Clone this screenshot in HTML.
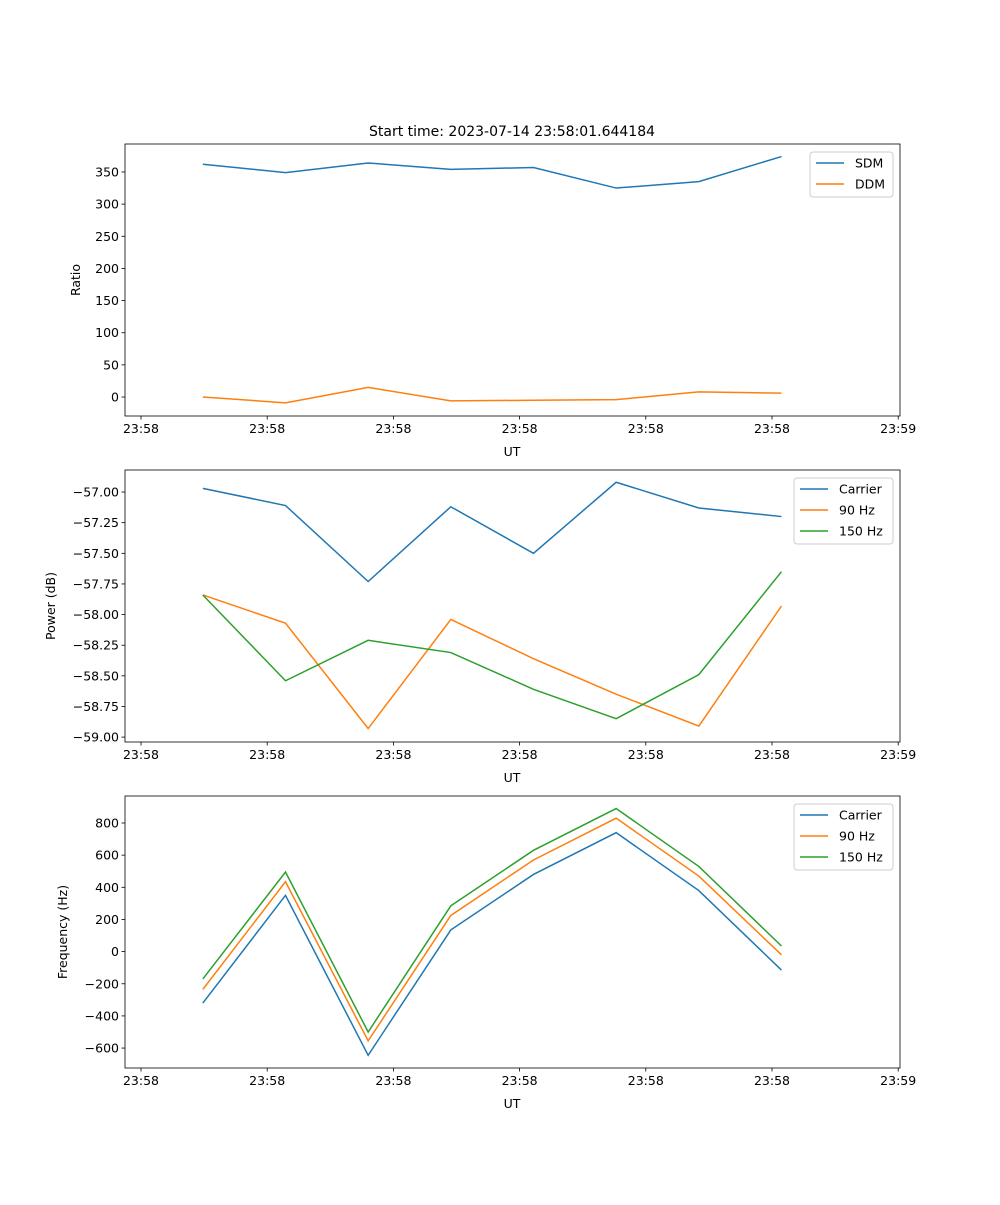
<!DOCTYPE html>
<html><head><meta charset="utf-8"><style>
body{margin:0;background:#fff}
svg text{font-family:"DejaVu Sans","Liberation Sans",sans-serif;font-size:12.5px;fill:#000}
</style></head><body>
<svg id="chart" width="1000" height="1200" xmlns="http://www.w3.org/2000/svg">
<rect width="1000" height="1200" fill="#fff"/>
<text x="512" y="136" text-anchor="middle" style="font-size:14px">Start time: 2023-07-14 23:58:01.644184</text>
</svg>
<script>
const times = [0.49, 1.145, 1.80, 2.455, 3.11, 3.765, 4.42, 5.075];
const xTickVals = [0, 1, 2, 3, 4, 5, 6];
const xTickLabels = ["23:58","23:58","23:58","23:58","23:58","23:58","23:59"];
const sdm = [362, 349, 364, 354, 357, 325, 335, 374];
const ddm = [0, -9, 15, -6, -5, -4, 8, 6];
const powCarrier = [-56.97, -57.11, -57.73, -57.12, -57.50, -56.92, -57.13, -57.20];
const pow90 = [-57.84, -58.07, -58.93, -58.04, -58.36, -58.65, -58.91, -57.93];
const pow150 = [-57.84, -58.54, -58.21, -58.31, -58.61, -58.85, -58.49, -57.65];
const freqCarrier = [-320, 350, -645, 135, 480, 740, 380, -115];
const freq90 = [-235, 435, -555, 225, 570, 830, 470, -20];
const freq150 = [-170, 495, -500, 285, 630, 890, 530, 35];
const ratioTicks = [0,50,100,150,200,250,300,350];
const powTicks = [-59,-58.75,-58.5,-58.25,-58,-57.75,-57.5,-57.25,-57];
const freqTicks = [-600,-400,-200,0,200,400,600,800];

const NS="http://www.w3.org/2000/svg";
const svg=document.getElementById('chart');
const X0=125,X1=900;
function xs(t){return 141+t*126.2;}
function mk(tag,attrs,parent){const e=document.createElementNS(NS,tag);for(const k in attrs)e.setAttribute(k,attrs[k]);(parent||svg).appendChild(e);return e;}
const C={blue:'#1f77b4',orange:'#ff7f0e',green:'#2ca02c'};

function panel(name,top,ymin,ymax,ticks,fmt,ylabel,ylabelX,series,legend){
  const bot=top+272;
  const ys=v=>bot-(v-ymin)/(ymax-ymin)*272;
  const g=mk('g',{});
  
  
  series.forEach(s=>{
    const p=mk('polyline',{points:s.vals.map((v,i)=>xs(times[i])+','+ys(v)).join(' '),fill:'none',stroke:s.color,'stroke-width':1.5},g);
    
    
  });
  mk('rect',{x:X0,y:top,width:X1-X0,height:272,fill:'none',stroke:'#000','stroke-width':0.8},g);
  xTickVals.forEach((t,i)=>{
    const x=xs(t);
    mk('line',{x1:x,x2:x,y1:bot,y2:bot+3.5,stroke:'#000','stroke-width':0.8},g);
    const tx=mk('text',{x:x,y:bot+17,'text-anchor':'middle'},g);tx.textContent=xTickLabels[i];
    
    
  });
  const xl=mk('text',{x:512,y:bot+40,'text-anchor':'middle'},g);xl.textContent='UT';
  
  
  ticks.forEach(v=>{
    const y=ys(v);
    mk('line',{x1:X0-3.5,x2:X0,y1:y,y2:y,stroke:'#000','stroke-width':0.8},g);
    const t=mk('text',{x:X0-6,y:y+4.5,'text-anchor':'end'},g);t.textContent=fmt(v);
    
    
  });
  const yl=mk('text',{x:ylabelX,y:(top+bot)/2,'text-anchor':'middle',transform:`rotate(-90 ${ylabelX} ${(top+bot)/2})`},g);yl.textContent=ylabel;
  
  
  const lx=legend.x,ly=top+8,lh=series.length*21+3;
  const lg=mk('g',{},g);
  
  
  mk('rect',{x:lx,y:ly,width:legend.w,height:lh,rx:3,fill:'#fff','fill-opacity':0.8,stroke:'#ccc'},lg);
  series.forEach((s,i)=>{
    const yy=ly+11+i*21;
    mk('line',{x1:lx+6,x2:lx+34,y1:yy,y2:yy,stroke:s.color,'stroke-width':1.5},lg);
    const t=mk('text',{x:lx+45,y:yy+4.5},lg);t.textContent=s.label;
    
    
  });
}
panel('ratio',144,-29.5,393.5,ratioTicks,v=>String(v),'Ratio',80,
  [{key:'sdm',label:'SDM',vals:sdm,color:C.blue},{key:'ddm',label:'DDM',vals:ddm,color:C.orange}],{x:810,w:83});
panel('power',470,-59.04,-56.82,powTicks,v=>(v<0?'\u2212':'')+Math.abs(v).toFixed(2),'Power (dB)',55,
  [{key:'carrier',label:'Carrier',vals:powCarrier,color:C.blue},{key:'90hz',label:'90 Hz',vals:pow90,color:C.orange},{key:'150hz',label:'150 Hz',vals:pow150,color:C.green}],{x:794,w:99});
panel('frequency',796,-724,968,freqTicks,v=>(v<0?'\u2212':'')+Math.abs(v),'Frequency (Hz)',67,
  [{key:'carrier',label:'Carrier',vals:freqCarrier,color:C.blue},{key:'90hz',label:'90 Hz',vals:freq90,color:C.orange},{key:'150hz',label:'150 Hz',vals:freq150,color:C.green}],{x:794,w:99});
</script>
</body></html>
